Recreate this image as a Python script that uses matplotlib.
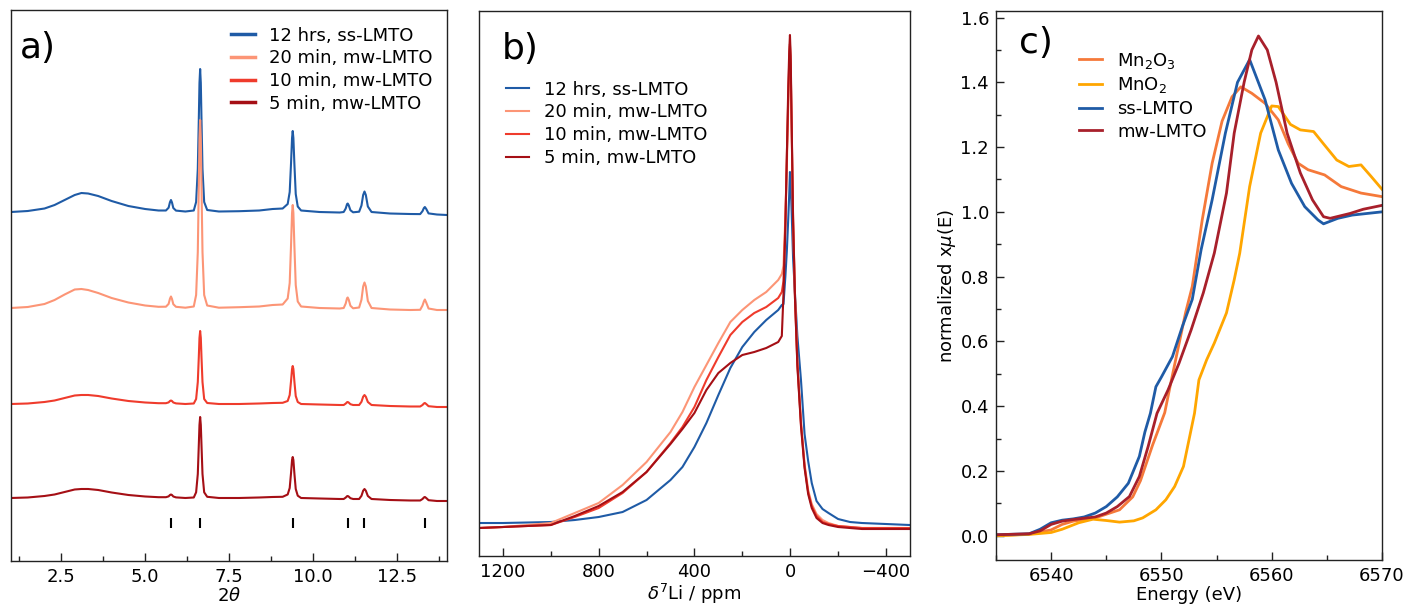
import matplotlib
matplotlib.use('Agg')
import matplotlib.pyplot as plt
from matplotlib.ticker import MultipleLocator

plt.rcParams['font.family'] = ['DejaVu Sans']
plt.rcParams['mathtext.fontset'] = 'dejavusans'

# ---------- a) XRD patterns (intensity above each baseline) ----------
two_theta = [1.0, 1.5, 2.0, 2.3, 2.6, 2.9, 3.1, 3.3, 3.6, 4.0, 4.5, 5.0, 5.4,
             5.62, 5.70, 5.74, 5.77, 5.80, 5.84, 5.92,
             6.2, 6.45,
             6.52, 6.57, 6.60, 6.62, 6.64, 6.66, 6.68, 6.71, 6.76, 6.85,
             7.2, 7.8, 8.4, 8.8, 9.1,
             9.25, 9.31, 9.35, 9.38, 9.40, 9.42, 9.45, 9.49, 9.55, 9.65,
             10.2, 10.8,
             10.92, 10.98, 11.02, 11.04, 11.07, 11.12, 11.2,
             11.38, 11.45, 11.50, 11.54, 11.58, 11.64, 11.75,
             12.3, 12.9,
             13.2, 13.27, 13.31, 13.34, 13.38, 13.45,
             13.7, 14.0]

xrd_ss_12h = [0, 1, 3.5, 7, 12, 17, 19, 18.5, 16, 11, 6, 3, 1.5,
              1.5, 4.3, 9.8, 12, 9.6, 4, 1.4,
              0.5, 1.5,
              10, 43, 93, 129, 143, 129, 93, 43, 10, 2,
              0.5, 0.8, 1.5, 3, 3.5,
              8, 20, 49, 74, 81, 74, 48, 18, 5.5, 1.5,
              0, -0.5,
              0, 3.5, 7.9, 8.5, 6.7, 1.8, -0.3,
              0.3, 6.5, 17, 20.5, 17, 5.5, 0,
              -1.5, -2,
              -2.1, 0.9, 3.9, 5, 3.1, -1.4,
              -2.5, -3]

xrd_mw_20m = [0, 1, 4, 8, 13.5, 18.5, 19, 18, 15, 10, 5.5, 2.5, 1.2,
              1.3, 4.1, 9.3, 11.5, 9.1, 3.8, 1.2,
              0.3, 1.5,
              13, 56, 122, 169, 188, 169, 122, 56, 13, 2.5,
              0.3, 0.8, 1.5, 3, 3.5,
              9.5, 25, 63, 95, 103, 95, 62, 23, 6.5, 1.5,
              0, -0.5,
              0, 4.5, 9.8, 10.5, 8.3, 2.3, -0.3,
              0.5, 8.3, 21.5, 25.5, 21.5, 7, 0,
              -1.5, -2,
              -1.8, 2.5, 6.5, 8.5, 5.5, -0.5,
              -2, -2]

xrd_mw_10m = [0, 0.5, 2, 3.5, 6, 8.5, 9, 9, 8, 5.5, 3, 1.5, 0.8,
              0.8, 1.6, 3, 3.5, 3, 1.5, 0.6,
              0, 0.5,
              5, 22, 47, 66, 73, 66, 47, 22, 5, 1,
              0, 0, 0.5, 1, 1.2,
              3, 9, 23, 35, 38, 35, 22.5, 8, 2, 0,
              -0.5, -1,
              -1, 0.4, 1.8, 2, 1.4, -0.2, -1,
              -1, 2.2, 7.3, 9, 7.3, 2, -1,
              -2, -2.5,
              -2.5, -1, 0.5, 1, 0, -2.2,
              -3, -3]

xrd_mw_5m = [0, 0.5, 2, 3.5, 6, 8.5, 9, 9, 8, 5.5, 3, 1.5, 0.8,
             0.8, 1.6, 3, 3.5, 3, 1.5, 0.6,
             0, 0.5,
             5.7, 24, 53, 73, 81, 73, 53, 24, 5.7, 1.2,
             0, 0, 0.5, 1, 1.2,
             3.5, 10, 25, 38, 41, 38, 24.5, 9, 2.3, 0,
             -0.5, -1,
             -1, 0.4, 1.8, 2, 1.4, -0.2, -1,
             -1, 2.2, 7.3, 9, 7.3, 2, -1,
             -2, -2.5,
             -2.5, -1, 0.5, 1, 0, -2.2,
             -3, -3]

xrd_offsets = [349, 253, 157, 63]
ref_positions = [5.77, 6.64, 9.40, 11.04, 11.54, 13.33]

sample_labels = ['12 hrs, ss-LMTO', '20 min, mw-LMTO', '10 min, mw-LMTO', '5 min, mw-LMTO']
sample_colors = ['#1f5ba6', '#fc9576', '#ef3b2c', '#a50f15']

# ---------- b) 7Li NMR ----------
ppm = [1300, 1200, 1100, 1000, 900, 800, 700, 600, 500, 450, 400, 350, 300, 250,
       200, 150, 100, 50, 35, 28, 20, 14, 8, 4, 1, -2, -6, -12, -20, -30, -45,
       -60, -75, -90, -110, -135, -160, -200, -250, -300, -400, -500]

nmr_ss_12h = [33, 33, 33.5, 34, 36, 39, 44, 56, 76, 89, 109, 133, 161, 188,
              209, 224, 236, 246, 251, 252, 280, 305, 338, 362, 384, 372, 345, 298, 262, 220, 176,
              122, 95, 73, 55, 47, 43, 37, 34, 33, 32, 31]
nmr_mw_20m = [28, 29, 31, 33, 43, 53, 71, 94, 124, 144, 169, 191, 213, 234,
              246, 256, 264, 276, 282, 290, 340, 390, 450, 490, 510, 490, 430, 340, 262, 195, 135,
              92, 66, 52, 42, 36, 33, 30, 29, 28, 28, 28]
nmr_mw_10m = [28, 29, 30, 31, 39, 48, 63, 84, 113, 129, 149, 176, 199, 221,
              234, 243, 249, 258, 264, 275, 335, 400, 460, 495, 512, 492, 430, 335, 258, 192, 132,
              90, 64, 50, 40, 34, 32, 30, 29, 28, 28, 28]
nmr_mw_5m = [28, 29, 30, 31, 40, 50, 64, 84, 112, 127, 143, 166, 183, 193,
             201, 204, 208, 214, 220, 262, 330, 400, 470, 505, 521, 500, 435, 338, 258, 190, 130,
             88, 62, 48, 38, 33, 31, 29, 28, 27, 27, 27]

# ---------- c) Mn K-edge XANES ----------
e_mn2o3 = [6535, 6538, 6540, 6541, 6542, 6544, 6546.2, 6547.4, 6548.1, 6549.2, 6550.3, 6550.9,
           6552.2, 6552.8, 6553.7, 6554.6, 6555.5, 6556.4, 6557.2, 6558.2, 6559.4, 6560.6,
           6561.5, 6562.4, 6563.3, 6564.8, 6566.3, 6568.1, 6570]
mu_mn2o3 = [0.0, 0.005, 0.018, 0.035, 0.045, 0.055, 0.08, 0.12, 0.17, 0.28, 0.38, 0.48,
            0.69, 0.77, 0.975, 1.15, 1.28, 1.355, 1.386, 1.366, 1.335, 1.284,
            1.21, 1.15, 1.13, 1.114, 1.078, 1.058, 1.047]

e_mno2 = [6535, 6538, 6540, 6541, 6542.5, 6543.8, 6545, 6546.2, 6547.5, 6548.3, 6549.5,
          6550.4, 6551.2, 6552.0, 6552.5, 6553.0, 6553.4, 6554.1, 6554.8, 6555.9, 6556.6,
          6557.1, 6558, 6559, 6560, 6560.6, 6561.7, 6562.6, 6563.8, 6564.7, 6565.9, 6567,
          6568.1, 6569, 6570]
mu_mno2 = [0.0, 0.004, 0.010, 0.02, 0.04, 0.051, 0.047, 0.042, 0.046, 0.055, 0.080,
           0.111, 0.152, 0.214, 0.296, 0.378, 0.481, 0.543, 0.595, 0.688, 0.79,
           0.872, 1.078, 1.243, 1.327, 1.325, 1.27, 1.253, 1.248, 1.21, 1.16, 1.14,
           1.145, 1.11, 1.07]

e_ss = [6535, 6538, 6539, 6540, 6541, 6542, 6543, 6544, 6545, 6546, 6547, 6548, 6548.5,
        6549, 6549.5, 6550, 6551, 6551.9, 6552.8, 6553.6, 6554.6, 6555.8, 6556.9, 6558.0,
        6559.4, 6560.6, 6561.8, 6563.0, 6564.2, 6564.7, 6566.0, 6567.3, 6570]
mu_ss = [0.003, 0.006, 0.02, 0.04, 0.048, 0.052, 0.058, 0.07, 0.09, 0.12, 0.162, 0.245, 0.32,
         0.378, 0.46, 0.49, 0.553, 0.646, 0.73, 0.883, 1.037, 1.243, 1.40, 1.47,
         1.346, 1.191, 1.088, 1.016, 0.975, 0.963, 0.98, 0.99, 1.0]

e_mw = [6535, 6538, 6539, 6540, 6541, 6542, 6544, 6545, 6546, 6547.1, 6548.0, 6548.8,
        6549.6, 6550.6, 6551.6, 6552.7, 6553.8, 6554.8, 6555.9, 6556.6, 6557.5, 6558.2,
        6558.8, 6559.6, 6560.4, 6561.4, 6562.6, 6563.7, 6564.7, 6565.3, 6567.1, 6568.3, 6570]
mu_mw = [0.003, 0.006, 0.015, 0.035, 0.045, 0.05, 0.058, 0.07, 0.09, 0.121, 0.183, 0.276,
         0.378, 0.45, 0.533, 0.636, 0.75, 0.873, 1.058, 1.243, 1.40, 1.50,
         1.543, 1.50, 1.40, 1.243, 1.12, 1.037, 0.985, 0.98, 0.995, 1.008, 1.02]


fig = plt.figure(figsize=(14.07, 6.07), dpi=100)
ax_a = fig.add_axes([0.0078, 0.0758, 0.3099, 0.9077])
ax_b = fig.add_axes([0.3404, 0.0840, 0.3063, 0.8979])
ax_c = fig.add_axes([0.7079, 0.0774, 0.2743, 0.9044])

for ax in (ax_a, ax_b, ax_c):
    for sp in ax.spines.values():
        sp.set_linewidth(1.0)
        sp.set_color('#222222')
    ax.tick_params(which='both', direction='in', labelsize=13, width=1.0, color='#222222', pad=5)
    ax.tick_params(which='major', length=6)
    ax.tick_params(which='minor', length=3.5)

leg_kw = dict(loc='upper left', frameon=False, fontsize=13, handlelength=1.3,
              handletextpad=0.8, labelspacing=0.26, borderpad=0, borderaxespad=0)

# a)
for pattern, off, lab, col in zip([xrd_ss_12h, xrd_mw_20m, xrd_mw_10m, xrd_mw_5m],
                                  xrd_offsets, sample_labels, sample_colors):
    ax_a.plot(two_theta, [v + off for v in pattern], color=col, lw=1.5, label=lab)
ax_a.vlines(ref_positions, 33, 43, color='black', lw=1.5)
ax_a.set_xlim(1.0, 14.0)
ax_a.set_ylim(0, 551)
ax_a.set_yticks([])
ax_a.xaxis.set_major_locator(MultipleLocator(2.5))
ax_a.xaxis.set_minor_locator(MultipleLocator(1.25))
ax_a.set_xlabel(r'2$\theta$', fontsize=13, labelpad=1)
ax_a.text(0.02, 0.962, 'a)', transform=ax_a.transAxes, fontsize=26, va='top', ha='left')
leg = ax_a.legend(bbox_to_anchor=(0.505, 0.97), **leg_kw)
for ln in leg.get_lines():
    ln.set_linewidth(2.5)

# b)
for spec, lab, col in zip([nmr_ss_12h, nmr_mw_20m, nmr_mw_10m, nmr_mw_5m], sample_labels, sample_colors):
    ax_b.plot(ppm, spec, color=col, lw=1.5, label=lab)
ax_b.set_xlim(1300, -500)
ax_b.set_ylim(0, 545)
ax_b.set_yticks([])
ax_b.xaxis.set_major_locator(MultipleLocator(400))
ax_b.xaxis.set_minor_locator(MultipleLocator(200))
ax_b.set_xlabel(r'$\delta^7$Li / ppm', fontsize=13, labelpad=1)
ax_b.text(0.053, 0.962, 'b)', transform=ax_b.transAxes, fontsize=26, va='top', ha='left')
ax_b.legend(bbox_to_anchor=(0.062, 0.872), **leg_kw)

# c)
ax_c.plot(e_mn2o3, mu_mn2o3, color='#f5793a', lw=2, label=r'Mn$_2$O$_3$')
ax_c.plot(e_mno2, mu_mno2, color='#ffa600', lw=2, label=r'MnO$_2$')
ax_c.plot(e_ss, mu_ss, color='#1f5ba6', lw=2, label='ss-LMTO')
ax_c.plot(e_mw, mu_mw, color='#a8202b', lw=2, label='mw-LMTO')
ax_c.set_xlim(6535, 6570)
ax_c.set_ylim(-0.075, 1.62)
ax_c.xaxis.set_major_locator(MultipleLocator(10))
ax_c.xaxis.set_minor_locator(MultipleLocator(5))
ax_c.yaxis.set_major_locator(MultipleLocator(0.2))
ax_c.yaxis.set_minor_locator(MultipleLocator(0.1))
ax_c.set_xlabel('Energy (eV)', fontsize=13, labelpad=1)
ax_c.set_ylabel(r'normalized x$\mu$(E)', fontsize=13, labelpad=2)
ax_c.text(0.06, 0.972, 'c)', transform=ax_c.transAxes, fontsize=26, va='top', ha='left')
ax_c.legend(bbox_to_anchor=(0.215, 0.928), **leg_kw)

plt.savefig('out.png', dpi=100)
